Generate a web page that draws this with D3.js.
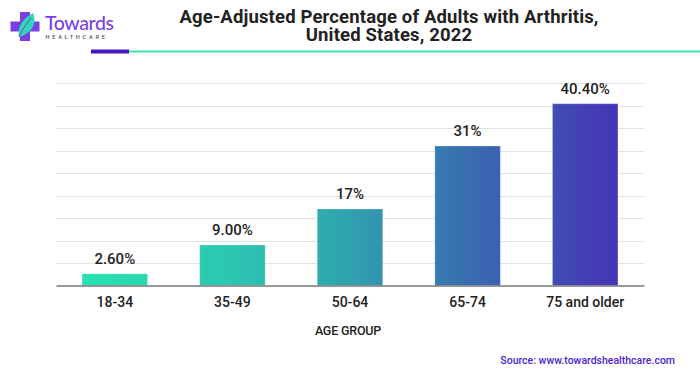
<!DOCTYPE html>
<html>
<head>
<meta charset="utf-8">
<script src="https://cdn.jsdelivr.net/npm/d3@7/dist/d3.min.js"></script>
<style>
  html, body { margin: 0; padding: 0; background: #fff; }
  svg { display: block; }
</style>
</head>
<body>
<svg id="chart" width="700" height="376"></svg>
<script>
const categories = ["18-34", "35-49", "50-64", "65-74", "75 and older"];
const values = [2.6, 9.0, 17, 31, 40.4];
const valueLabels = ["2.60%", "9.00%", "17%", "31%", "40.40%"];
const yTicks = [0, 5, 10, 15, 20, 25, 30, 35, 40, 45];
const titleLines = ["Age-Adjusted Percentage of Adults with Arthritis,", "United States, 2022"];
const xAxisTitle = "AGE GROUP";
const sourceText = "Source: www.towardshealthcare.com";

const svg = d3.select("#chart");
const plotLeft = 56, plotRight = 644, plotTop = 83, plotBottom = 285.5;

const x = d3.scaleBand().domain(categories).range([plotLeft, plotRight]).paddingInner(0.443).paddingOuter(0.2215);
const y = d3.scaleLinear().domain([0, 45]).range([plotBottom, plotTop]);

// gradient
const defs = svg.append("defs");
const grad = defs.append("linearGradient").attr("id", "barGrad")
  .attr("gradientUnits", "userSpaceOnUse")
  .attr("x1", plotLeft).attr("x2", plotRight).attr("y1", 0).attr("y2", 0);
[[0.05, "#27e2b0"], [0.30, "#2cc6b0"], [0.50, "#30a2ae"], [0.70, "#396db1"], [0.95, "#4535b7"]]
  .forEach(([o, c]) => grad.append("stop").attr("offset", o).attr("stop-color", c));

// logo
const logo = svg.append("g");
logo.append("path")
  .attr("d", "M20,12 h10 v9.5 h9.5 v10 h-9.5 v9.5 h-10 v-9.5 h-9.5 v-10 h9.5 z")
  .attr("fill", "#7a3ee6");
logo.append("path")
  .attr("d", "M19,37 C17,28 22,19 33,13 C37,22 33,33 19,37 Z")
  .attr("fill", "#2fd8b4");
logo.append("path")
  .attr("d", "M19,37 C22,30 26,24 31,18")
  .attr("fill", "none").attr("stroke", "#7a3ee6").attr("stroke-width", 1);
logo.append("text").attr("x", 45).attr("y", 30)
  .attr("font-family", "Lato, 'Open Sans', sans-serif").attr("font-weight", 500)
  .attr("font-size", 19.5).attr("letter-spacing", -0.4).attr("fill", "#7a3ee6").text("Towards");
logo.append("text").attr("x", 45.5).attr("y", 39)
  .attr("font-family", "Roboto, sans-serif").attr("font-weight", 500)
  .attr("font-size", 5.6).attr("letter-spacing", 2.75).attr("fill", "#555").text("HEALTHCARE");

// title
svg.append("g").selectAll("text").data(titleLines).join("text")
  .attr("x", 389).attr("y", (d, i) => 23 + i * 18)
  .attr("text-anchor", "middle")
  .attr("font-family", "Roboto, sans-serif").attr("font-weight", 700)
  .attr("font-size", 18.5).attr("letter-spacing", 0.15).attr("fill", "#222").text(d => d);

// separator lines
svg.append("line").attr("x1", 129).attr("x2", 700).attr("y1", 51.5).attr("y2", 51.5)
  .attr("stroke", "#3ddfb2").attr("stroke-width", 2);
svg.append("rect").attr("x", 91).attr("y", 49.5).attr("width", 38).attr("height", 4)
  .attr("fill", "#4318c0");

// gridlines
svg.append("g").selectAll("line").data(yTicks.slice(1)).join("line")
  .attr("x1", plotLeft).attr("x2", plotRight + 0.5)
  .attr("y1", d => Math.round(y(d)) + 0.5).attr("y2", d => Math.round(y(d)) + 0.5)
  .attr("stroke", "#e2e2e2").attr("stroke-width", 1.2);

// bars
svg.append("g").selectAll("rect").data(values).join("rect")
  .attr("x", (d, i) => x(categories[i]))
  .attr("y", d => y(d))
  .attr("width", x.bandwidth())
  .attr("height", d => plotBottom - y(d))
  .attr("fill", "url(#barGrad)")
  .attr("stroke", "rgba(255,255,255,0.25)").attr("stroke-width", 1);

// baseline axis
const xAxis = d3.axisBottom(x).tickSize(0).tickPadding(12);
const gx = svg.append("g").attr("transform", `translate(0,${plotBottom})`).call(xAxis);
gx.select(".domain").attr("stroke", "#777").attr("stroke-width", 1.5);
gx.selectAll("text").attr("font-family", "Roboto, sans-serif").attr("font-weight", 500)
  .attr("font-size", 14).attr("fill", "#222");

// value labels
svg.append("g").selectAll("text").data(values).join("text")
  .attr("x", (d, i) => x(categories[i]) + x.bandwidth() / 2)
  .attr("y", d => y(d) - 10)
  .attr("text-anchor", "middle")
  .attr("font-family", "Roboto, sans-serif").attr("font-weight", 500)
  .attr("font-size", 15).attr("fill", "#222")
  .text((d, i) => valueLabels[i]);

// axis title
svg.append("text").attr("x", 348).attr("y", 335).attr("text-anchor", "middle")
  .attr("font-family", "Roboto, sans-serif").attr("font-weight", 500)
  .attr("font-size", 12.5).attr("fill", "#222").attr("letter-spacing", -0.2).text(xAxisTitle);

// source
svg.append("text").attr("x", 675).attr("y", 363.5).attr("text-anchor", "end")
  .attr("font-family", "Roboto, sans-serif").attr("font-weight", 500)
  .attr("font-size", 10.5).attr("fill", "#4b24d6").text(sourceText);
</script>
</body>
</html>
